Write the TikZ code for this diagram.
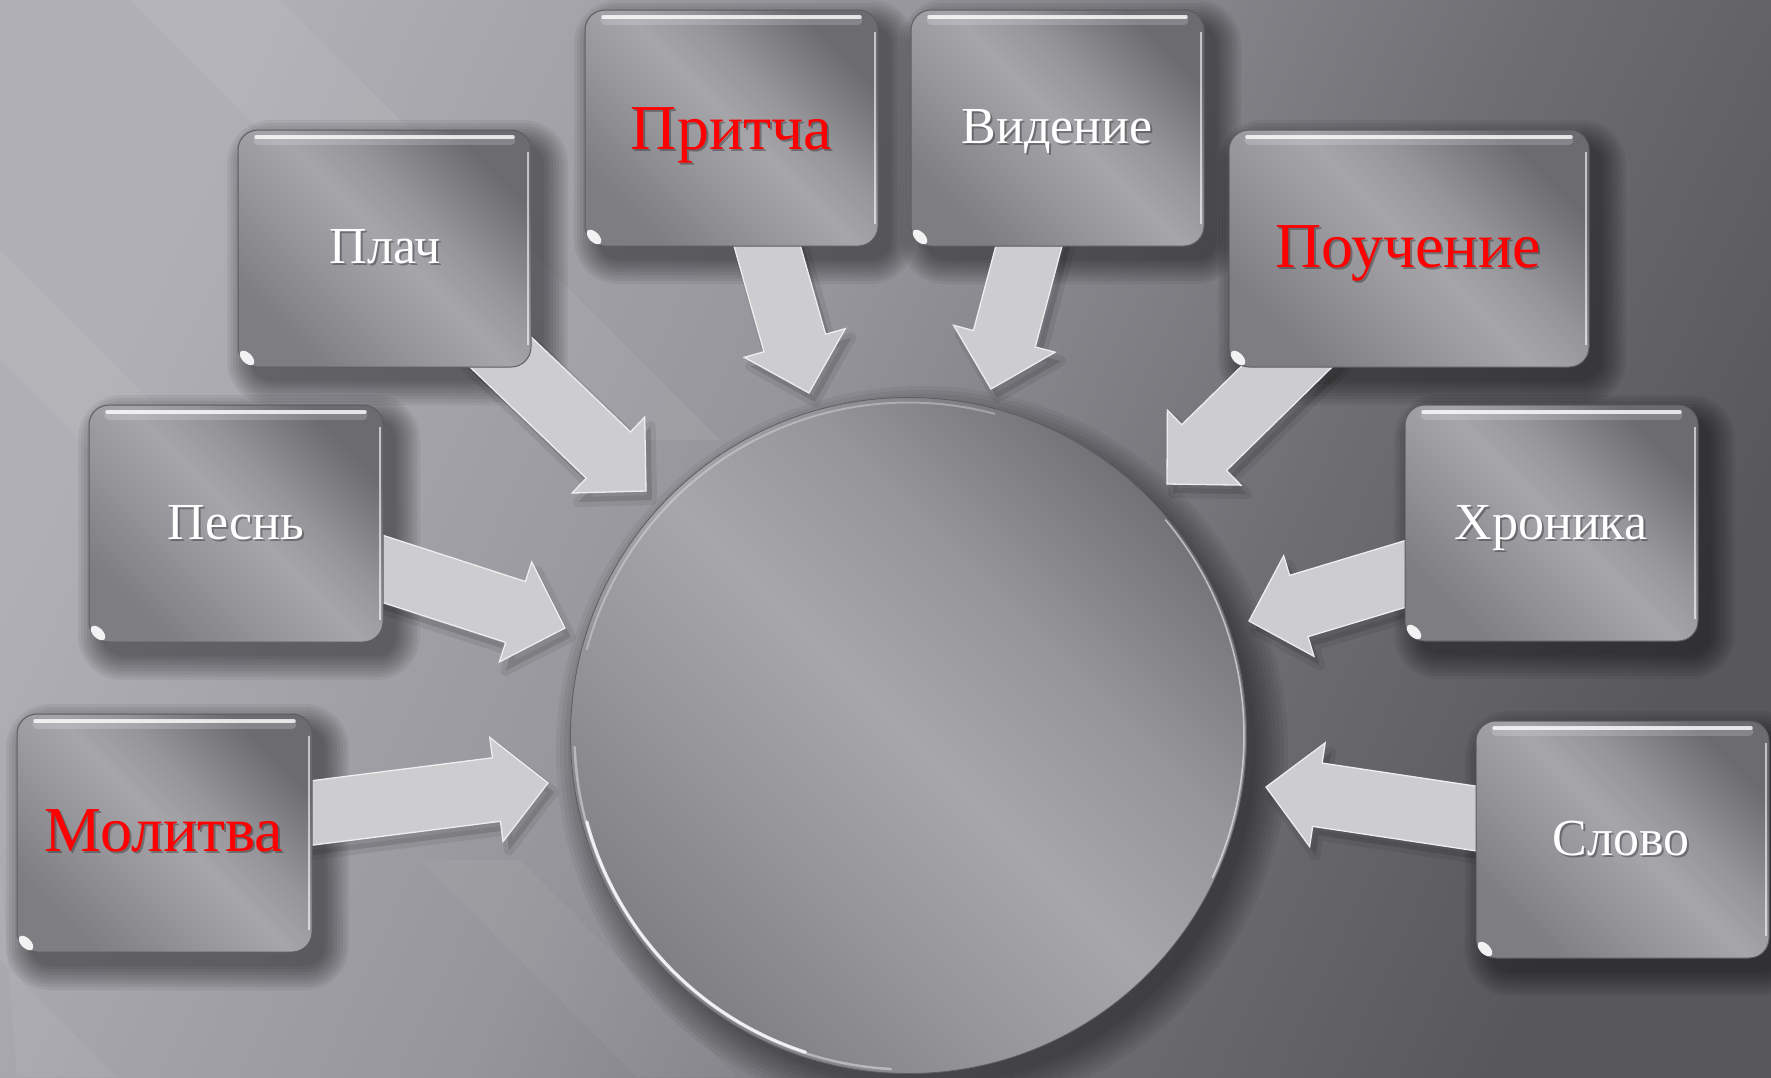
\documentclass[tikz,border=0pt]{standalone}
\usepackage{fontspec}
\setmainfont{Liberation Serif}
\usetikzlibrary{calc}
\definecolor{bgA}{HTML}{B0AFB5}
\definecolor{bgB}{HTML}{96959B}
\definecolor{bgC}{HTML}{6E6D72}
\definecolor{bgD}{HTML}{58575C}
\definecolor{mA}{HTML}{7E7D82}
\definecolor{mB}{HTML}{96959A}
\definecolor{mC}{HTML}{A6A5AA}
\definecolor{mD}{HTML}{6C6B70}
\definecolor{cA}{HTML}{807F84}
\definecolor{cB}{HTML}{96959A}
\definecolor{cC}{HTML}{A7A6AB}
\definecolor{cD}{HTML}{737277}
\definecolor{boxEdge}{HTML}{5E5D62}
\definecolor{arrowFill}{HTML}{CDCDCF}
\definecolor{arrowEdge}{HTML}{EEEEF0}
\definecolor{redtxt}{HTML}{FF0000}
\pgfdeclarehorizontalshading{bgsh}{100bp}{color(0bp)=(bgA); color(25bp)=(bgA); color(45bp)=(bgB); color(62bp)=(bgC); color(75bp)=(bgD); color(100bp)=(bgD)}
\pgfdeclarehorizontalshading{metalsh}{100bp}{color(0bp)=(mA); color(25bp)=(mA); color(40bp)=(mB); color(51bp)=(mC); color(60bp)=(mB); color(75bp)=(mD); color(100bp)=(mD)}
\pgfdeclarehorizontalshading{circsh}{100bp}{color(0bp)=(cA); color(25bp)=(cA); color(38bp)=(cB); color(50bp)=(cC); color(62bp)=(cB); color(75bp)=(cD); color(100bp)=(cD)}
\pgfdeclarelayer{bg}
\pgfdeclarelayer{shadow}
\pgfdeclarelayer{arrows}
\pgfsetlayers{bg,shadow,arrows,main}

% name, cx, cy, w, h
\newcommand\metalbox[5]{%
  \node[mbox, minimum width=#4, minimum height=#5] (#1) at (#2,#3) {};
  \begin{pgfonlayer}{shadow}
    \foreach \k in {0,...,8}{
      \pgfmathsetmacro\rc{20+3*\k}
      \fill[black, opacity=.055, rounded corners=\rc pt]
        ({#2-#4/2+13-3*\k},{#3-#5/2+14-3*\k}) rectangle ({#2+#4/2+13+3*\k},{#3+#5/2+14+3*\k});
    }
  \end{pgfonlayer}
  \draw[white, opacity=.18, line width=9pt, line cap=round]
    ({#2-#4/2+20},{#3-#5/2+10}) -- ({#2+#4/2-20},{#3-#5/2+10});
  \draw[white, opacity=.8, line width=3.5pt, line cap=round]
    ({#2-#4/2+18},{#3-#5/2+7}) -- ({#2+#4/2-18},{#3-#5/2+7});
  \draw[white, opacity=.6, line width=1.5pt]
    ({#2+#4/2-3},{#3-#5/2+22}) -- ({#2+#4/2-3},{#3+#5/2-22});
  \fill[white, opacity=.9, rotate around={-45:({#2-#4/2+9},{#3+#5/2-9})}]
    ({#2-#4/2+9},{#3+#5/2-9}) ellipse (9 and 5);
}
% name, x, baseline y, colour, size, text
\newcommand\blabel[6]{%
  \node[anchor=base, text=black, opacity=.3, inner sep=0pt, font=\fontsize{#5}{#5}\selectfont] (#1s) at ({#2+2},{#3+2}) {#6};
  \node[anchor=base, text=#4, inner sep=0pt, font=\fontsize{#5}{#5}\selectfont] (#1) at (#2,#3) {#6};
}
% polygon of a block arrow: start, tip, head base
\newcommand\arrowpoly[3]{($(#1)!32pt!90:(#2)$) -- ($(#3)!32pt!90:(#2)$) -- ($(#3)!52.5pt!90:(#2)$) -- (#2)
    -- ($(#3)!52.5pt!-90:(#2)$) -- ($(#3)!32pt!-90:(#2)$) -- ($(#1)!32pt!-90:(#2)$) -- cycle}
% name, start, tip
\newcommand\blockarrow[3]{%
  \coordinate (#1hb) at ($(#3)!52pt!(#2)$);
  \coordinate (#1ss) at ($(#2)+(6,9)$);
  \coordinate (#1st) at ($(#3)+(6,9)$);
  \coordinate (#1sh) at ($(#1hb)+(6,9)$);
  \begin{pgfonlayer}{shadow}
    \filldraw[black, fill opacity=.12, draw opacity=.07, line width=10pt, line join=round] \arrowpoly{#1ss}{#1st}{#1sh};
  \end{pgfonlayer}
  \filldraw[arrowst] \arrowpoly{#2}{#3}{#1hb};
}

\begin{document}
\begin{tikzpicture}[x=1pt,y=-1pt,
  mbox/.style={rectangle, rounded corners=20pt, draw=boxEdge, line width=1pt, shading=metalsh, shading angle=45, inner sep=0pt},
  arrowst/.style={fill=arrowFill, draw=arrowEdge, line width=1.3pt, line join=miter},
  rim/.style={white, line cap=round}]
\useasboundingbox (0,0) rectangle (1771,1077);

\begin{pgfonlayer}{bg}
  \fill[shading=bgsh, shading angle=-25] (0,0) rectangle (1771,1077);
  \fill[white, opacity=.06] (130,0) -- (280,0) -- (720,440) -- (570,440) -- cycle;
  \fill[white, opacity=.05] (0,250) -- (0,360) -- (200,560) -- (200,450) -- cycle;
  \fill[white, opacity=.05] (0,860) -- (0,960) -- (117,1077) -- (17,1077) -- cycle;
  \fill[white, opacity=.04] (420,860) -- (520,860) -- (737,1077) -- (637,1077) -- cycle;
\end{pgfonlayer}

% central circle
\node[circle, minimum size=676, inner sep=0pt, shading=circsh, shading angle=45, draw=boxEdge, line width=.8pt] (circ) at (908.5,735.5) {};
\begin{pgfonlayer}{shadow}
  \foreach \k in {0,...,8}{
    \fill[black, opacity=.05] (922,752) circle ({334+4*\k});
  }
\end{pgfonlayer}
\draw[rim, opacity=.4, line width=2.5pt] plot[domain=93:178, samples=60] ({908.5+334*cos(\x)},{735.5+334*sin(\x)});
\draw[rim, opacity=.85, line width=3pt] plot[domain=108:165, samples=50] ({908.5+333*cos(\x)},{735.5+333*sin(\x)});
\draw[rim, opacity=.3, line width=2pt] plot[domain=195:285, samples=60] ({908.5+333*cos(\x)},{735.5+333*sin(\x)});
\draw[rim, opacity=.55, line width=1.5pt] plot[domain=-40:25, samples=50] ({908.5+335.5*cos(\x)},{735.5+335.5*sin(\x)});

% boxes
\metalbox{pritcha}{731.5}{128}{293}{236}
\metalbox{videnie}{1057.5}{128}{293}{236}
\metalbox{plach}{384.5}{248.5}{293}{237}
\metalbox{pouchenie}{1409}{248.5}{360}{237}
\metalbox{pesn}{236}{523.5}{294}{237}
\metalbox{hronika}{1551.5}{523}{293}{236}
\metalbox{molitva}{164.5}{833}{295}{238}
\metalbox{slovo}{1622.5}{839.5}{293}{237}

% connector end points
\coordinate (sPlach) at (442,296);      \coordinate (tPlach) at (646,491);
\coordinate (sPritcha) at (757,210);    \coordinate (tPritcha) at (809,393);
\coordinate (sVidenie) at (1039,208);   \coordinate (tVidenie) at (991,389);
\coordinate (sPouchenie) at (1317,337); \coordinate (tPouchenie) at (1167,484);
\coordinate (sHronika) at (1445,562);   \coordinate (tHronika) at (1249,621);
\coordinate (sSlovo) at (1516,824.5);   \coordinate (tSlovo) at (1266,787);
\coordinate (sPesn) at (343,556);       \coordinate (tPesn) at (565,628);
\coordinate (sMolitva) at (272,818);    \coordinate (tMolitva) at (548,783);

\begin{pgfonlayer}{arrows}
  \blockarrow{aPlach}{sPlach}{tPlach}
  \blockarrow{aPritcha}{sPritcha}{tPritcha}
  \blockarrow{aVidenie}{sVidenie}{tVidenie}
  \blockarrow{aPouchenie}{sPouchenie}{tPouchenie}
  \blockarrow{aHronika}{sHronika}{tHronika}
  \blockarrow{aSlovo}{sSlovo}{tSlovo}
  \blockarrow{aPesn}{sPesn}{tPesn}
  \blockarrow{aMolitva}{sMolitva}{tMolitva}
\end{pgfonlayer}

% labels
\blabel{lPritcha}{731.5}{149}{redtxt}{64}{Притча}
\blabel{lVidenie}{1057}{143}{white}{52}{Видение}
\blabel{lPlach}{385}{263}{white}{52}{Плач}
\blabel{lPouchenie}{1408}{267}{redtxt}{64}{Поучение}
\blabel{lPesn}{236}{539}{white}{52}{Песнь}
\blabel{lHronika}{1551}{539}{white}{52}{Хроника}
\blabel{lMolitva}{164}{851}{redtxt}{64}{Молитва}
\blabel{lSlovo}{1621}{855}{white}{52}{Слово}
\end{tikzpicture}
\end{document}
